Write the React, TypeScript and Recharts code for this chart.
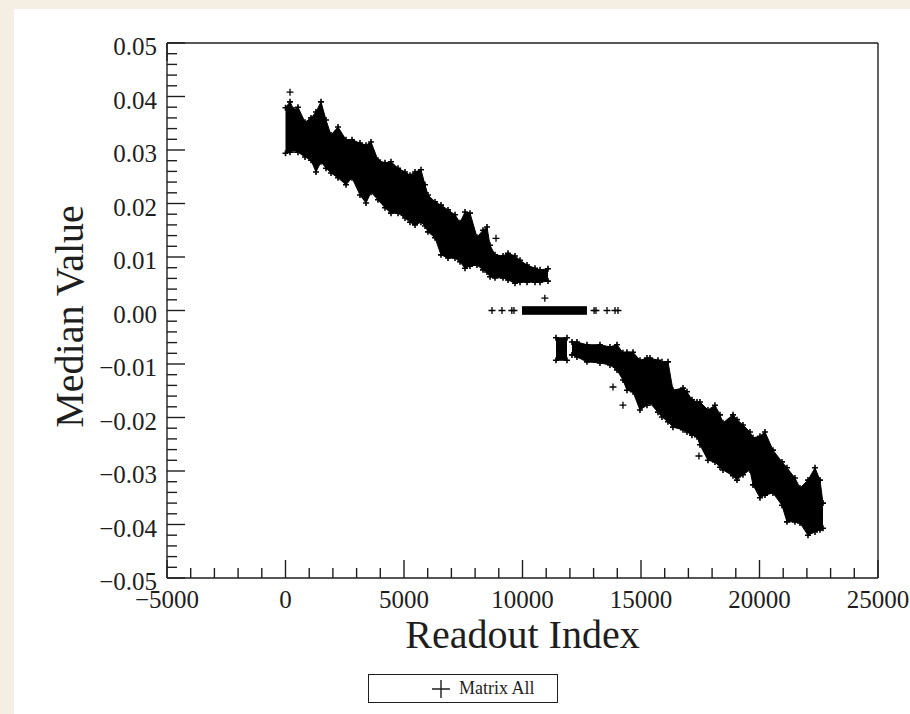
import React from 'react';
import { ComposedChart, Area, Scatter, XAxis, YAxis, Label } from 'recharts';

// readout index / median value envelope of the dense point clouds
const leftIdx = [0, 190, 359, 527, 823, 1076, 1287, 1498, 1709, 1920, 2215, 2553, 2806, 3143, 3397, 3608, 3903, 4198, 4451, 4747, 5042, 5253, 5464, 5717, 5886, 6012, 6308, 6561, 6856, 7152, 7363, 7574, 7785, 8080, 8333, 8502, 8629, 8840, 9178, 9388, 9684, 9895, 10190, 10528, 10739, 11076];
const leftLow = [0.0294, 0.0296, 0.03, 0.0296, 0.0287, 0.0281, 0.0259, 0.0278, 0.0266, 0.0257, 0.0248, 0.0235, 0.0248, 0.0216, 0.0201, 0.0221, 0.0207, 0.0192, 0.0182, 0.0182, 0.0173, 0.0165, 0.016, 0.0165, 0.0158, 0.0147, 0.0136, 0.0104, 0.0098, 0.0098, 0.0091, 0.0079, 0.0083, 0.0085, 0.0076, 0.0072, 0.0063, 0.0061, 0.0061, 0.0057, 0.0051, 0.0053, 0.0053, 0.0053, 0.0053, 0.0055];
const leftHigh = [0.0379, 0.039, 0.0375, 0.038, 0.0352, 0.036, 0.0371, 0.039, 0.0356, 0.0328, 0.0343, 0.0319, 0.0319, 0.0313, 0.0309, 0.0315, 0.0281, 0.0276, 0.0278, 0.0266, 0.0259, 0.0253, 0.0259, 0.0263, 0.0235, 0.0216, 0.0203, 0.0197, 0.0188, 0.0179, 0.0164, 0.0184, 0.0182, 0.0137, 0.015, 0.0156, 0.0122, 0.0104, 0.0102, 0.0107, 0.0102, 0.0094, 0.0085, 0.0079, 0.0076, 0.0078];

const zeroIdx = [9978, 12720];
const zeroLow = [-0.0007, -0.0007];
const zeroHigh = [0.0007, 0.0007];

const blockIdx = [11413, 11877];
const blockLow = [-0.0093, -0.0093];
const blockHigh = [-0.0051, -0.0051];

const rightIdx = [12088, 12299, 12721, 13269, 13691, 13986, 14240, 14408, 14662, 14957, 15252, 15379, 15717, 15885, 16138, 16349, 16771, 16940, 17151, 17362, 17488, 17826, 18121, 18332, 18459, 18881, 19050, 19303, 19598, 19725, 20020, 20231, 20569, 20948, 21159, 21497, 21708, 22046, 22341, 22552, 22679];
const rightLow = [-0.0083, -0.0087, -0.0096, -0.0098, -0.0102, -0.0111, -0.013, -0.0149, -0.0152, -0.0186, -0.0177, -0.0173, -0.019, -0.0199, -0.0208, -0.0218, -0.0223, -0.0227, -0.0233, -0.0236, -0.0251, -0.028, -0.0283, -0.0293, -0.0298, -0.0309, -0.0317, -0.0307, -0.0298, -0.0326, -0.035, -0.0345, -0.0341, -0.0364, -0.0395, -0.0395, -0.0397, -0.042, -0.0414, -0.041, -0.0407];
const rightHigh = [-0.0059, -0.0059, -0.0064, -0.0064, -0.0068, -0.0064, -0.0079, -0.0078, -0.0078, -0.0093, -0.0089, -0.0089, -0.0093, -0.0096, -0.0096, -0.0149, -0.0145, -0.0152, -0.0167, -0.0171, -0.0171, -0.0186, -0.0177, -0.0195, -0.021, -0.0195, -0.0204, -0.0214, -0.0227, -0.0238, -0.0235, -0.0227, -0.0261, -0.0283, -0.0294, -0.0313, -0.0332, -0.0317, -0.0294, -0.0317, -0.036];

// single readouts drawn as separate crosses
const looseIdx = [8712, 9134, 9550, 9640, 13020, 13100, 13565, 13903, 14029, 190, 8882, 10943, 13818, 14240, 17446];
const looseVal = [0, 0, 0, 0, 0, 0, 0, 0, 0, 0.0408, 0.0135, 0.0023, -0.0143, -0.0177, -0.0272];

const yMajor = [-0.05, -0.04, -0.03, -0.02, -0.01, 0, 0.01, 0.02, 0.03, 0.04, 0.05];
const xMajor = [-5000, 0, 5000, 10000, 15000, 20000, 25000];

const yTicks = Array.from({ length: 51 }, (_, i) => Math.round((-0.05 + i * 0.002) * 10000) / 10000);
const xTicks = Array.from({ length: 31 }, (_, i) => -5000 + i * 1000);

const FONT = '"Liberation Serif", "Times New Roman", serif';
const INK = '#1e1e1e';

const segments: [string, number[], number[], number[]][] = [
  ['left', leftIdx, leftLow, leftHigh],
  ['zero', zeroIdx, zeroLow, zeroHigh],
  ['block', blockIdx, blockLow, blockHigh],
  ['right', rightIdx, rightLow, rightHigh],
];

const bandRows = segments
  .flatMap(([key, xs, lo, hi]) => xs.map((x, i) => ({ x, [key]: [lo[i], hi[i]] })))
  .sort((a, b) => a.x - b.x);

// crosses along the cloud edges give the ragged '+' texture
const edgeRows = segments
  .filter(([key]) => key !== 'zero')
  .flatMap(([, xs, lo, hi]) => xs.flatMap((x, i) => [{ x, y: lo[i] }, { x, y: hi[i] }]));

const looseRows = looseIdx.map((x, i) => ({ x, y: looseVal[i] }));

const isMajorY = (v: number) => yMajor.some(m => Math.abs(m - v) < 1e-7);
const isMajorX = (v: number) => xMajor.includes(v);

const fmtY = (v: number) => (v < -1e-9 ? '\u2212' : '') + Math.abs(v).toFixed(2);
const fmtX = (v: number) => (v < 0 ? '\u2212' : '') + Math.abs(v);

const LeftTick = ({ x, y, payload }: any) => {
  const major = isMajorY(payload.value);
  return (
    <g>
      <line x1={x} x2={x + (major ? 18 : 10)} y1={y} y2={y} stroke={INK} strokeWidth={1.4} />
      {major && (
        <text x={x - 10} y={y} dy={12} textAnchor="end" fontFamily={FONT} fontSize={25} fill={INK}>
          {fmtY(payload.value)}
        </text>
      )}
    </g>
  );
};

const RightTick = ({ x, y, payload }: any) => {
  const major = isMajorY(payload.value);
  return <line x1={x} x2={x - (major ? 18 : 10)} y1={y} y2={y} stroke={INK} strokeWidth={1.4} />;
};

const BottomTick = ({ x, y, payload }: any) => {
  const major = isMajorX(payload.value);
  return (
    <g>
      <line x1={x} x2={x} y1={y} y2={y - (major ? 18 : 10)} stroke={INK} strokeWidth={1.4} />
      {major && (
        <text x={x} y={y} dy={30} textAnchor="middle" fontFamily={FONT} fontSize={25} fill={INK}>
          {fmtX(payload.value)}
        </text>
      )}
    </g>
  );
};

const TopTick = ({ x, y, payload }: any) => {
  const major = isMajorX(payload.value);
  return <line x1={x} x2={x} y1={y} y2={y + (major ? 18 : 10)} stroke={INK} strokeWidth={1.4} />;
};

const CrossMark = ({ cx, cy }: any) => (
  <path d={`M${cx - 3.5},${cy}h7M${cx},${cy - 3.5}v7`} stroke="#000" strokeWidth={1.3} fill="none" />
);

const EdgeMark = ({ cx, cy }: any) => (
  <path d={`M${cx - 3},${cy}h6M${cx},${cy - 3}v6`} stroke="#000" strokeWidth={1.6} fill="none" />
);

const axisLine = { stroke: INK, strokeWidth: 1.4 };

export default function App() {
  return (
    <div style={{ position: 'fixed', left: 0, top: 0, width: 910, height: 714, background: '#f4eee3' }}>
      <div style={{ position: 'absolute', left: 14, top: 9, width: 896, height: 705, background: '#fff' }}>
        <ComposedChart width={896} height={705} data={bandRows} margin={{ top: 30, right: 28, bottom: 56, left: 0 }}>
          <XAxis
            dataKey="x"
            type="number"
            domain={[-5000, 25000]}
            ticks={xTicks}
            interval={0}
            height={80}
            tickSize={0}
            tickMargin={0}
            tickLine={false}
            axisLine={axisLine}
            tick={<BottomTick />}
          >
            <Label
              content={({ viewBox }: any) => (
                <text
                  x={viewBox.x + viewBox.width / 2}
                  y={viewBox.y + 70}
                  textAnchor="middle"
                  fontFamily={FONT}
                  fontSize={40}
                  fill={INK}
                >
                  Readout Index
                </text>
              )}
            />
          </XAxis>
          <XAxis
            xAxisId="top"
            orientation="top"
            type="number"
            domain={[-5000, 25000]}
            ticks={xTicks}
            interval={0}
            height={4}
            tickSize={0}
            tickMargin={0}
            tickLine={false}
            axisLine={axisLine}
            tick={<TopTick />}
          />
          <YAxis
            type="number"
            domain={[-0.05, 0.05]}
            ticks={yTicks}
            interval={0}
            width={153}
            tickSize={0}
            tickMargin={0}
            tickLine={false}
            axisLine={axisLine}
            tick={<LeftTick />}
          >
            <Label
              content={({ viewBox }: any) => {
                const lx = viewBox.x + 69;
                const ly = viewBox.y + viewBox.height / 2 + 6;
                return (
                  <text
                    x={lx}
                    y={ly}
                    transform={`rotate(-90, ${lx}, ${ly})`}
                    textAnchor="middle"
                    fontFamily={FONT}
                    fontSize={40}
                    fill={INK}
                  >
                    Median Value
                  </text>
                );
              }}
            />
          </YAxis>
          <YAxis
            yAxisId="right"
            orientation="right"
            type="number"
            domain={[-0.05, 0.05]}
            ticks={yTicks}
            interval={0}
            width={4}
            tickSize={0}
            tickMargin={0}
            tickLine={false}
            axisLine={axisLine}
            tick={<RightTick />}
          />
          {segments.map(([key]) => (
            <Area
              key={key}
              dataKey={key}
              type="linear"
              connectNulls
              stroke="#000"
              strokeWidth={1}
              fill="#000"
              fillOpacity={1}
              dot={false}
              activeDot={false}
              isAnimationActive={false}
            />
          ))}
          <Scatter data={edgeRows} dataKey="y" shape={<EdgeMark />} isAnimationActive={false} />
          <Scatter data={looseRows} dataKey="y" shape={<CrossMark />} isAnimationActive={false} />
        </ComposedChart>
      </div>
      <div
        style={{
          position: 'absolute',
          left: 368,
          top: 674,
          width: 188,
          height: 27,
          border: `1.5px solid ${INK}`,
          background: '#fff',
          display: 'flex',
          alignItems: 'center',
          fontFamily: FONT,
          fontSize: 18,
          color: INK,
        }}
      >
        <svg width={18} height={18} style={{ marginLeft: 63, marginRight: 9 }}>
          <path d="M0,9h18M9,0v18" stroke={INK} strokeWidth={1.4} />
        </svg>
        <span>Matrix All</span>
      </div>
    </div>
  );
}
